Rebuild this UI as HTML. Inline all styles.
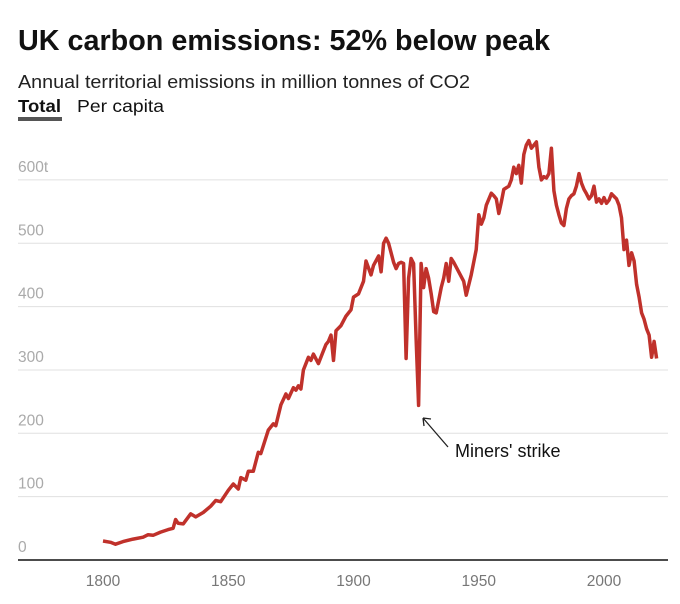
<!DOCTYPE html>
<html><head><meta charset="utf-8"><style>
body{margin:0;background:#fff;width:680px;height:604px;overflow:hidden;font-family:"Liberation Sans",sans-serif}
svg{position:absolute;left:0;top:0}
</style></head><body>
<svg width="680" height="604">
<text x="18" y="50" font-size="29" font-weight="bold" fill="#111" textLength="532" lengthAdjust="spacingAndGlyphs">UK carbon emissions: 52% below peak</text>
<text x="18" y="88" font-size="18.5" fill="#222" textLength="452" lengthAdjust="spacingAndGlyphs">Annual territorial emissions in million tonnes of CO2</text>
<text x="18" y="112" font-size="17.5" font-weight="bold" fill="#111" textLength="43" lengthAdjust="spacingAndGlyphs">Total</text>
<rect x="18" y="117" width="44" height="4" fill="#555"/>
<text x="77" y="112" font-size="17.5" fill="#111" textLength="87" lengthAdjust="spacingAndGlyphs">Per capita</text>
<g id="grid"></g>
<g id="xaxis"></g>
<path id="line" fill="none" stroke="#c0312b" stroke-width="3.5" stroke-linejoin="round"/>
<path d="M448 447 L423 418 M423 418 L424 426 M423 418 L431 419" stroke="#222" stroke-width="1.3" fill="none"/>
<text x="455" y="457" font-size="18" fill="#111">Miners' strike</text>
</svg>
<script>
const years=[1800,1803,1805,1808,1812,1816,1818,1820,1823,1826,1828,1829,1830,1832,1835,1837,1840,1843,1845,1847,1850,1852,1854,1855,1857,1858,1860,1862,1863,1866,1868,1869,1871,1873,1874,1876,1877,1878,1879,1880,1882,1883,1884,1886,1888,1889,1890,1891,1892,1893,1895,1897,1899,1900,1902,1904,1905,1907,1908,1910,1911,1912,1913,1914,1916,1917,1918,1919,1920,1921,1922,1923,1924,1925,1926,1927,1928,1929,1930,1931,1932,1933,1934,1935,1936,1937,1938,1939,1940,1942,1944,1945,1947,1948,1949,1950,1951,1952,1953,1955,1956,1957,1958,1959,1960,1962,1963,1964,1965,1966,1967,1968,1969,1970,1971,1972,1973,1974,1975,1976,1977,1978,1979,1980,1981,1982,1983,1984,1985,1986,1987,1988,1989,1990,1991,1992,1993,1994,1995,1996,1997,1998,1999,2000,2001,2002,2003,2004,2005,2006,2007,2008,2009,2010,2011,2012,2013,2014,2015,2016,2017,2018,2019,2020,2021,2022];
const values=[30,28,25,29,33,36,40,39,44,48,50,64,58,57,73,68,75,85,94,92,110,120,112,130,126,140,140,170,168,205,215,212,245,262,255,272,268,275,270,300,320,315,325,310,330,340,345,355,315,362,370,385,395,415,420,440,472,450,465,480,455,500,508,500,470,460,468,470,468,318,445,476,468,350,244,468,430,460,445,420,392,390,410,430,445,468,440,476,470,455,440,418,450,470,490,545,530,540,560,579,575,570,547,565,585,590,600,620,610,623,595,640,655,662,650,655,660,620,600,605,603,610,650,583,560,545,532,528,555,570,575,578,590,610,595,585,578,570,575,590,565,570,563,572,563,568,578,574,570,560,540,490,505,465,485,472,435,415,390,380,365,355,320,345,318];
const yTicks=[0,100,200,300,400,500,600];
const yTickLabels=["0","100","200","300","400","500","600t"];
const xTicks=[1800,1850,1900,1950,2000];
const NS="http://www.w3.org/2000/svg";
const X=y=>103+(y-1800)*2.505;
const Y=v=>560-v*0.6335;
const grid=document.getElementById('grid');
yTicks.forEach((t,i)=>{
  if(t>0){const l=document.createElementNS(NS,'line');
  l.setAttribute('x1',18);l.setAttribute('x2',668);l.setAttribute('y1',Y(t));l.setAttribute('y2',Y(t));
  l.setAttribute('stroke','#e0e0e0');l.setAttribute('stroke-width','1');
  
  
  grid.appendChild(l);}
  const tx=document.createElementNS(NS,'text');
  tx.setAttribute('x',18);tx.setAttribute('y',Y(t)-8);tx.setAttribute('font-size','15.5');tx.setAttribute('fill','#aaa');
  tx.textContent=yTickLabels[i];
  
  
  grid.appendChild(tx);
});
const xa=document.getElementById('xaxis');
const ax=document.createElementNS(NS,'line');
ax.setAttribute('x1',18);ax.setAttribute('x2',668);ax.setAttribute('y1',560);ax.setAttribute('y2',560);
ax.setAttribute('stroke','#111');ax.setAttribute('stroke-width','1.5');


xa.appendChild(ax);
xTicks.forEach(t=>{
  const tx=document.createElementNS(NS,'text');
  tx.setAttribute('x',X(t));tx.setAttribute('y',586);tx.setAttribute('font-size','15.5');tx.setAttribute('fill','#777');tx.setAttribute('text-anchor','middle');
  tx.textContent=t;
  
  
  xa.appendChild(tx);
});
document.getElementById('line').setAttribute('d',years.map((y,i)=>(i?'L':'M')+X(y).toFixed(1)+' '+Y(values[i]).toFixed(1)).join(' '));
</script>
</body></html>
